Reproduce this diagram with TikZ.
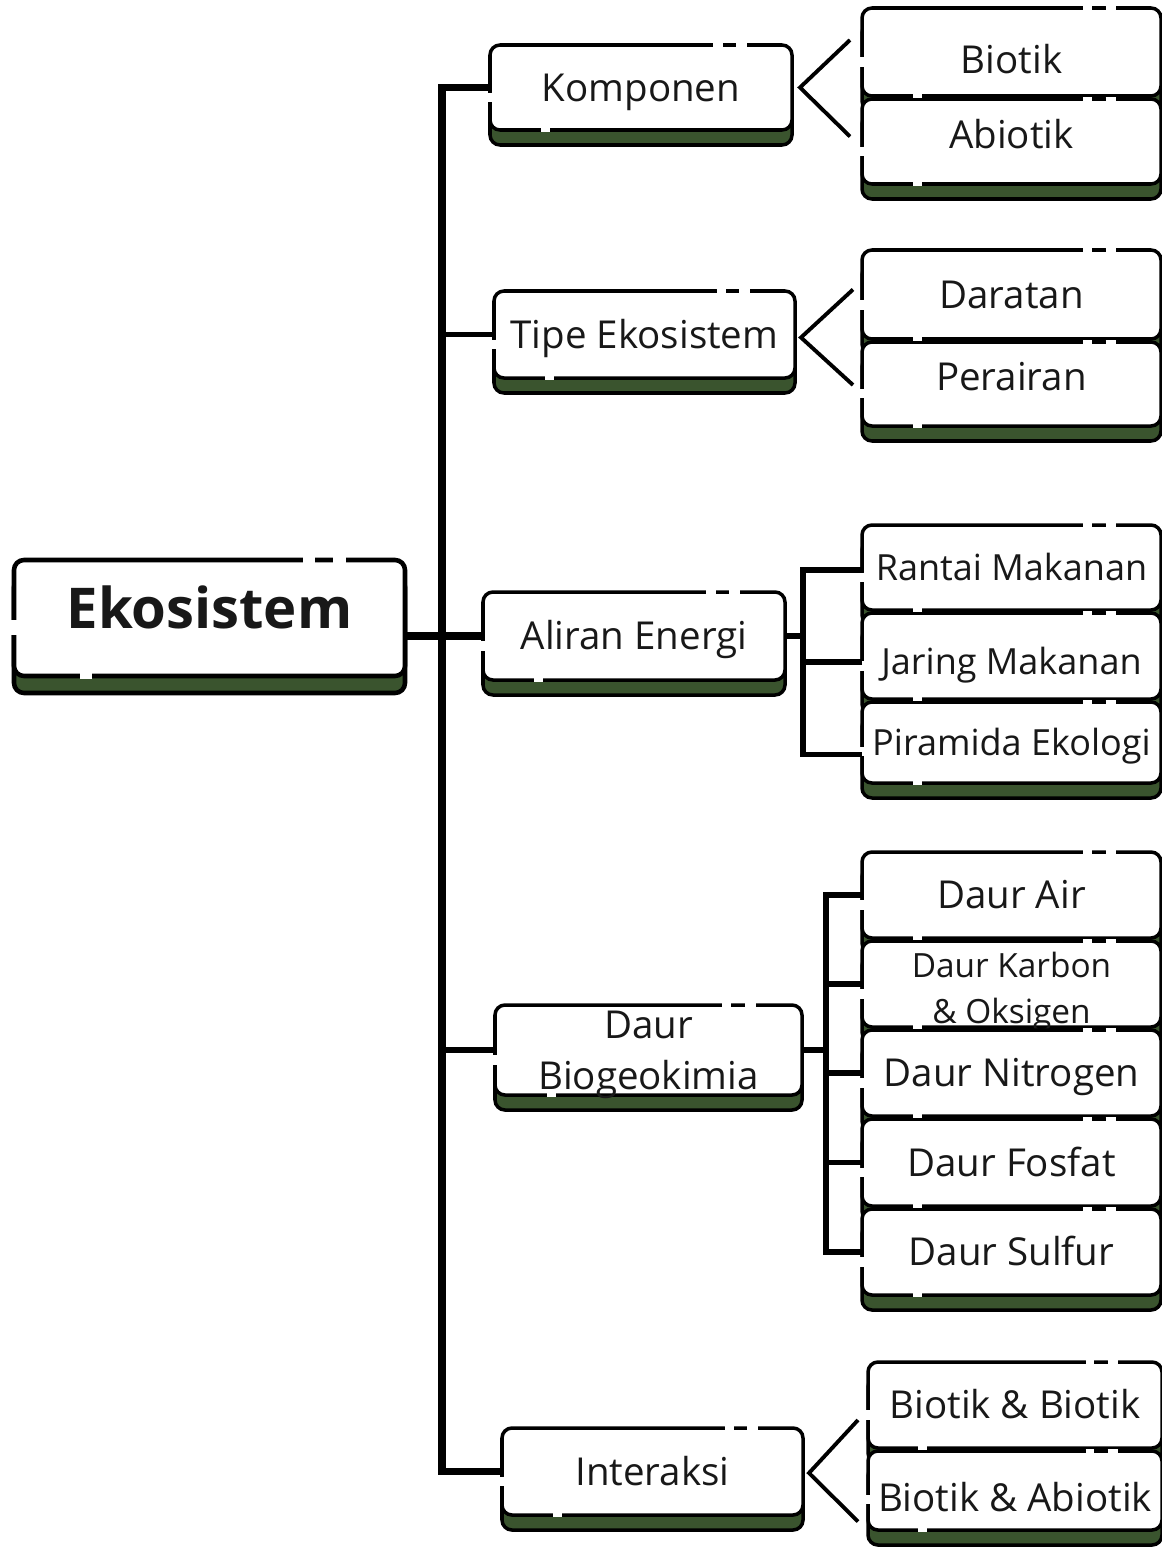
\documentclass[tikz,border=0pt]{standalone}
\usepackage{fontspec}
\setmainfont{Open Sans}
\usetikzlibrary{calc,positioning,shadows}

\definecolor{leaf}{RGB}{58,84,46}
\definecolor{ink}{RGB}{24,24,24}

\begin{document}
\begin{tikzpicture}[x=0.02cm, y=-0.02cm, node distance=0.06cm,
  box/.style args = {#1,#2}{draw=black, fill=white, line width=2pt, rounded corners=0.2cm,
    inner sep=0pt, outer sep=0pt, minimum width=#1*0.02cm, minimum height=#2*0.02cm,
    text=ink, align=center, font=\fontsize{21.9}{29.5}\selectfont,
    text height=15.6pt, text depth=0pt,
    general shadow={shadow yshift=-0.3cm, fill=leaf, draw=black, line width=2pt}},
  tight/.style = {font=\fontsize{20.5}{24}\selectfont, text height=14.6pt},
  rootbox/.style = {box={391,116}, line width=2.6pt, font=\fontsize{32}{36}\selectfont\bfseries,
    text height=22.8pt, text depth=11.4pt,
    general shadow={shadow yshift=-0.34cm, fill=leaf, draw=black, line width=2.6pt}},
  trunk/.style = {line width=4pt},
  branch/.style = {line width=3.4pt},
  bracket/.style = {line width=3pt},
  fork/.style = {line width=2.2pt},
  gapline/.style = {white, line width=2.4pt}]

\useasboundingbox (0,0) rectangle (1162,1549);

% main nodes
\node (eko) [rootbox] at (209.5,618) {Ekosistem};
\node (komp) [box={302,85}] at (641,87.5) {Komponen};
\node (tipe) [box={301,87}] at (644.5,334.5) {Tipe Ekosistem};
\node (alir) [box={302,88}] at (634,636) {Aliran Energi};
\node (daur) [box={307,90}, text height=47.9pt, text depth=2.5pt] at (648.5,1050) {Daur\\Biogeokimia};
\node (inter) [box={301,87}] at (652.5,1471.5) {Interaksi};

% right column
\node (biotik) [box={299,88}, anchor=north west, text height=24.6pt] at (862,8) {Biotik};
\node (abiotik) [box={299,85}, below=of biotik, text depth=8pt] {Abiotik};

\node (darat) [box={299,89}, anchor=north west] at (862,250) {Daratan};
\node (perair) [box={299,84}, below=of darat, text depth=8pt] {Perairan};

\node (rantai) [box={299,85}, anchor=north west, tight] at (862,525) {Rantai Makanan};
\node (jaring) [box={299,86}, below=of rantai, tight, text height=21pt] {Jaring Makanan};
\node (piramida) [box={299,81}, below=of jaring, tight] {Piramida Ekologi};

\node (air) [box={299,86}, anchor=north west] at (862,852) {Daur Air};
\node (karbon) [box={299,86}, below=of air, font=\fontsize{19}{26}\selectfont,
  text height=45pt, text depth=-1pt] {Daur Karbon\\\&~Oksigen};
\node (nitro) [box={299,86}, below=of karbon] {Daur Nitrogen};
\node (fosfat) [box={299,87}, below=of nitro] {Daur Fosfat};
\node (sulfur) [box={299,86}, below=of fosfat] {Daur Sulfur};

\node (bb) [box={294,86}, anchor=north west] at (868,1362) {Biotik \& Biotik};
\node (ba) [box={294,79}, below=of bb, text height=23.6pt] {Biotik \& Abiotik};

% broken edges
\foreach \n in {komp,tipe,alir,daur,inter,biotik,abiotik,darat,perair,rantai,jaring,piramida,air,karbon,nitro,fosfat,sulfur,bb,ba}{
  \draw[gapline] ($(\n.north west)!0.74!(\n.north east)$) -- ($(\n.north west)!0.77!(\n.north east)$)
                 ($(\n.north west)!0.815!(\n.north east)$) -- ($(\n.north west)!0.85!(\n.north east)$)
                 ($(\n.north west)!0.56!(\n.south west)$) -- ($(\n.north west)!0.67!(\n.south west)$)
                 ($(\n.south west)!0.17!(\n.south east)$) -- ($(\n.south west)!0.2!(\n.south east)$);
}
\draw[gapline, line width=3pt] ($(eko.north west)!0.74!(eko.north east)$) -- ($(eko.north west)!0.77!(eko.north east)$)
               ($(eko.north west)!0.815!(eko.north east)$) -- ($(eko.north west)!0.85!(eko.north east)$)
               ($(eko.north west)!0.52!(eko.south west)$) -- ($(eko.north west)!0.65!(eko.south west)$)
               ($(eko.south west)!0.17!(eko.south east)$) -- ($(eko.south west)!0.2!(eko.south east)$);

% spine
\coordinate (spine) at (442,0);
\draw[trunk] (komp.west) -- (komp.west -| spine) -- (inter.west -| spine) -- (inter.west);
\draw[branch] (tipe.west) -- (tipe.west -| spine);
\draw[branch] (daur.west) -- (daur.west -| spine);
\draw[trunk] (eko.east |- alir.west) -- (alir.west);

% forks
\draw[fork] ($(biotik.west)+(-12,-12)$) -- ($(komp.east)+(8,0)$) -- ($(abiotik.west)+(-12,-5)$);
\draw[fork] ($(darat.west)+(-9,-5)$) -- ($(tipe.east)+(6,3)$) -- ($(perair.west)+(-9,1)$);
\draw[fork] ($(bb.west)+(-10,15)$) -- ($(inter.east)+(6,1.5)$) -- ($(ba.west)+(-10,31)$);

% brackets
\coordinate (abus) at (803,0);
\coordinate (rantaiin) at ($(rantai.north west)!0.53!(rantai.south west)$);
\coordinate (jaringin) at ($(jaring.north west)!0.57!(jaring.south west)$);
\coordinate (piramidain) at ($(piramida.north west)!0.65!(piramida.south west)$);
\draw[bracket] (alir.east) -- (alir.east -| abus);
\draw[bracket] (rantaiin) -- (rantaiin -| abus) -- (piramidain -| abus) -- (piramidain);
\draw[bracket] (jaringin) -- (jaringin -| abus);

\coordinate (dbus) at (826,0);
\draw[branch] (daur.east) -- (daur.east -| dbus);
\draw[branch] (air.west) -- (air.west -| dbus) -- (sulfur.west -| dbus) -- (sulfur.west);
\foreach \n in {karbon,nitro,fosfat}
  \draw[branch] (\n.west) -- (\n.west -| dbus);
\end{tikzpicture}
\end{document}
